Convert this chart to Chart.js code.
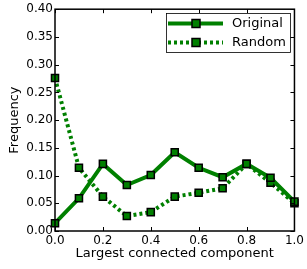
<!DOCTYPE html>
<html>
<head>
<meta charset="utf-8">
<script src="https://cdn.jsdelivr.net/npm/chart.js@4.4.0/dist/chart.umd.min.js"></script>
<style>
  html, body { margin: 0; padding: 0; background: #fff; }
  #wrap { width: 307px; height: 269px; }
</style>
</head>
<body>
<div id="wrap"><canvas id="myChart" width="307" height="269"></canvas></div>
<script>
// x positions (largest connected component fraction)
const xValues = [0.0, 0.1, 0.2, 0.3, 0.4, 0.5, 0.6, 0.7, 0.8, 0.9, 1.0];
const originalFreq = [0.014, 0.059, 0.121, 0.083, 0.101, 0.142, 0.114, 0.097, 0.121, 0.096, 0.053];
const randomFreq = [0.276, 0.114, 0.062, 0.027, 0.034, 0.062, 0.069, 0.077, 0.121, 0.087, 0.050];
const seriesNames = ['Original', 'Random'];

const green = '#008000';
const font = 'DejaVu Sans';

let toPoints = (ys) => xValues.map((x, i) => ({ x: x, y: ys[i] }));

// inward ticks on all four sides + frame + legend, matplotlib style
let mplPlugin = {
  id: 'mpl',
  afterDraw(chart) {
    let ctx = chart.ctx;
    let a = chart.chartArea;
    let xs = chart.scales.x, ys = chart.scales.y;
    ctx.save();
    ctx.strokeStyle = '#000';
    ctx.lineWidth = 1;
    ctx.beginPath();
    xs.ticks.forEach(t => {
      let px = Math.round(xs.getPixelForValue(t.value)) + 0.5;
      ctx.moveTo(px, a.bottom); ctx.lineTo(px, a.bottom - 4);
      ctx.moveTo(px, a.top); ctx.lineTo(px, a.top + 4);
    });
    ys.ticks.forEach(t => {
      let py = Math.round(ys.getPixelForValue(t.value)) + 0.5;
      ctx.moveTo(a.left, py); ctx.lineTo(a.left + 4, py);
      ctx.moveTo(a.right, py); ctx.lineTo(a.right - 4, py);
    });
    ctx.stroke();
    ctx.lineWidth = 1.5;
    ctx.strokeRect(a.left, a.top, a.right - a.left, a.bottom - a.top);

    // legend box
    let lx = 166, ly = 13, lw = 124, lh = 39;
    ctx.fillStyle = '#fff';
    ctx.fillRect(lx, ly, lw, lh);
    ctx.strokeStyle = '#000';
    ctx.lineWidth = 0.8;
    ctx.strokeRect(lx + 0.5, ly + 0.5, lw, lh);
    seriesNames.forEach((name, i) => {
      let cy = ly + 10.5 + i * 19;
      ctx.strokeStyle = green;
      ctx.lineWidth = 4;
      ctx.setLineDash(i === 0 ? [] : [3, 3]);
      ctx.beginPath();
      ctx.moveTo(lx + 2, cy); ctx.lineTo(lx + 57, cy);
      ctx.stroke();
      ctx.setLineDash([]);
      ctx.fillStyle = green;
      ctx.fillRect(lx + 26, cy - 4, 8, 8);
      ctx.strokeStyle = '#000';
      ctx.lineWidth = 1.5;
      ctx.strokeRect(lx + 26, cy - 4, 8, 8);
      ctx.fillStyle = '#000';
      ctx.font = '13px "' + font + '"';
      ctx.textBaseline = 'middle';
      ctx.fillText(name, lx + 66, cy);
    });
    ctx.restore();
  }
};

let ctx = document.getElementById('myChart').getContext('2d');
let chart = new Chart(ctx, {
  type: 'line',
  data: {
    datasets: [{
      label: seriesNames[0],
      data: toPoints(originalFreq),
      borderColor: green,
      backgroundColor: green,
      borderWidth: 4,
      pointStyle: 'rect',
      pointRadius: 5,
      pointBorderColor: '#000',
      pointBorderWidth: 1.5,
      pointBackgroundColor: green,
    }, {
      label: seriesNames[1],
      data: toPoints(randomFreq),
      borderColor: green,
      backgroundColor: green,
      borderWidth: 4,
      borderDash: [3, 3],
      pointStyle: 'rect',
      pointRadius: 5,
      pointBorderColor: '#000',
      pointBorderWidth: 1.5,
      pointBackgroundColor: green,
    }]
  },
  options: {
    responsive: false,
    animation: false,
    clip: false,
    layout: { padding: { top: 5, right: 11, left: 0, bottom: 0 } },
    plugins: { legend: { display: false }, tooltip: { enabled: false } },
    scales: {
      x: {
        type: 'linear',
        min: 0, max: 1,
        grid: { display: false, drawTicks: false },
        border: { display: false },
        title: { display: true, text: 'Largest connected component', color: '#000',
                 font: { family: font, size: 13 }, padding: { top: 0, bottom: 8 } },
        ticks: { stepSize: 0.2, color: '#000', padding: 3, maxRotation: 0,
                 font: { family: font, size: 12 },
                 callback: v => v.toFixed(1) },
        afterFit: s => { s.height = 38; }
      },
      y: {
        min: 0, max: 0.4,
        grid: { display: false, drawTicks: false },
        border: { display: false },
        title: { display: true, text: 'Frequency', color: '#000',
                 font: { family: font, size: 13 }, padding: { top: 7, bottom: 0 } },
        ticks: { stepSize: 0.05, color: '#000', padding: 2,
                 font: { family: font, size: 12 },
                 callback: v => v.toFixed(2) },
        afterFit: s => { s.width = 55; }
      }
    }
  },
  plugins: [mplPlugin]
});
</script>
</body>
</html>
